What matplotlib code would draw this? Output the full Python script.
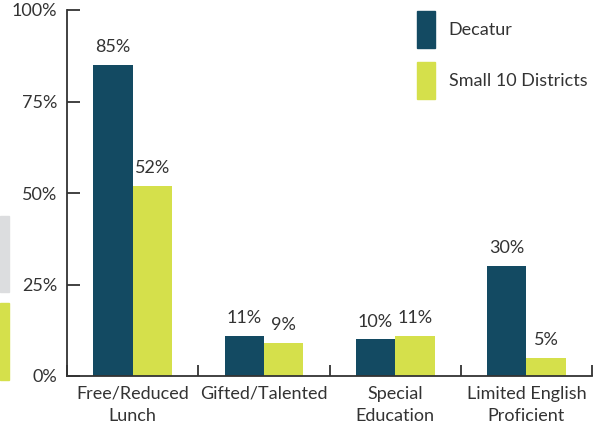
import matplotlib
matplotlib.use("Agg")
import matplotlib.pyplot as plt
from matplotlib.patches import Rectangle, Patch
import numpy as np

categories = ["Free/Reduced\nLunch", "Gifted/Talented", "Special\nEducation", "Limited English\nProficient"]
decatur = [85, 11, 10, 30]
small10 = [52, 9, 11, 5]
series_names = ["Decatur", "Small 10 Districts"]
yticks = [0, 25, 50, 75, 100]
ytick_labels = ["0%", "25%", "50%", "75%", "100%"]

DARK = "#134A62"
LIGHT = "#D5E04B"
TEXT = "#333333"
FS = 13

plt.rcParams['font.family'] = ['Lato', 'DejaVu Sans']

W, H = 603, 429
fig = plt.figure(figsize=(W/100, H/100), dpi=100)
ax = fig.add_axes([67/W, 1-376/H, (592-67)/W, (376-10)/H])

x = np.arange(len(categories))
bw = 0.3
b1 = ax.bar(x - bw/2, decatur, bw, color=DARK, label=series_names[0])
b2 = ax.bar(x + bw/2, small10, bw, color=LIGHT, label=series_names[1])

for bars, vals in ((b1, decatur), (b2, small10)):
    for r, v in zip(bars, vals):
        ax.annotate(f"{v}%", (r.get_x() + r.get_width()/2, v), xytext=(0, 7),
                    textcoords="offset points", ha="center", va="bottom",
                    fontsize=FS, color=TEXT)

ax.set_xlim(-0.5, 3.5)
ax.set_ylim(0, 100)
ax.set_yticks(yticks)
ax.set_yticklabels(ytick_labels)
ax.set_xticks(x)
ax.set_xticklabels(categories, fontsize=FS, color=TEXT, linespacing=1.45)
ax.tick_params(axis='x', length=0, pad=7)
ax.set_xticks(np.arange(-0.5, 4.0, 1.0), minor=True)
ax.tick_params(axis='x', which='minor', direction='in', length=8, width=1.3, color="#333333")
ax.tick_params(axis='y', direction='in', length=9, width=1.3, color="#333333",
               labelsize=FS, labelcolor=TEXT, pad=7)
for s in ("top", "right"):
    ax.spines[s].set_visible(False)
for s in ("left", "bottom"):
    ax.spines[s].set_color("#333333")
    ax.spines[s].set_linewidth(1.3)

ax.legend(handles=[Patch(color=DARK), Patch(color=LIGHT)], labels=series_names,
          loc="upper left", bbox_to_anchor=((417-67)/(592-67), (376-11)/366),
          frameon=False, fontsize=FS, handlelength=1.0, handleheight=2.78,
          handletextpad=0.75, labelspacing=0.78, borderaxespad=0, borderpad=0,
          labelcolor=TEXT)

# cropped fragments at left edge
fig.patches.append(Rectangle((0, 1-292/H), 9/W, 76/H, transform=fig.transFigure,
                             color="#DCDDDF", zorder=0))
fig.patches.append(Rectangle((0, 1-380/H), 9/W, 77/H, transform=fig.transFigure,
                             color=LIGHT, zorder=0))

fig.savefig("out.png", dpi=100)
